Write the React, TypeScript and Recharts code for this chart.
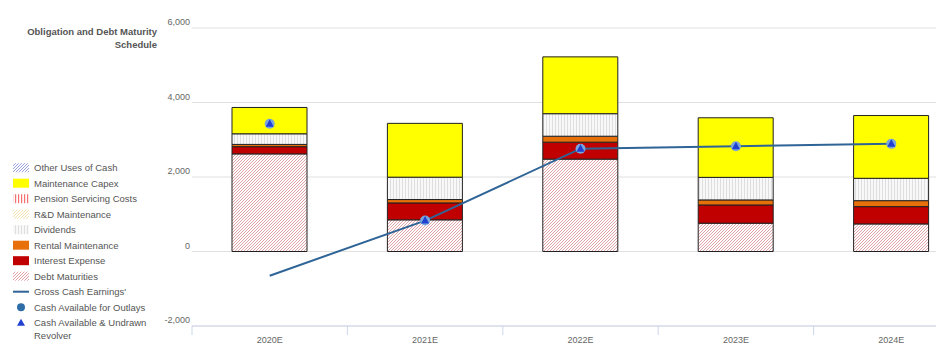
import React from 'react';
import { ComposedChart, Bar, Line, XAxis, YAxis, CartesianGrid } from 'recharts';

const categories = ['2020E', '2021E', '2022E', '2023E', '2024E'];
const debtMaturities = [2620, 850, 2480, 760, 740];
const interestExpense = [195, 455, 455, 490, 465];
const rentalMaintenance = [60, 90, 160, 135, 160];
const dividends = [285, 600, 605, 605, 600];
const rdMaintenance = [0, 0, 0, 0, 0];
const pensionServicing = [0, 0, 0, 0, 0];
const maintenanceCapex = [707, 1445, 1525, 1600, 1685];
const otherUses = [0, 0, 0, 0, 0];
const grossCashEarnings = [-650, 830, 2760, 2825, 2890];
const cashAvailable = [3430, 830, 2760, 2825, 2890];
const cashAvailableRevolver = [3430, 830, 2760, 2825, 2890];
const yTicks = [-2000, 0, 2000, 4000, 6000];

const data = categories.map((c, i) => ({
  name: c,
  debt: debtMaturities[i],
  interest: interestExpense[i],
  rental: rentalMaintenance[i],
  dividends: dividends[i],
  rd: rdMaintenance[i],
  pension: pensionServicing[i],
  capex: maintenanceCapex[i],
  other: otherUses[i],
  gross: grossCashEarnings[i],
  cash: cashAvailable[i],
  revolver: cashAvailableRevolver[i],
}));

const FONT = '"Liberation Sans", Arial, sans-serif';
const LINE_COLOR = '#2f6497';

const PatternDefs = () => (
  <svg width={0} height={0} style={{ position: 'absolute', left: 0, top: 0 }}>
    <defs>
      <pattern id="pdebt" patternUnits="userSpaceOnUse" width="3" height="3">
        <rect width="3" height="3" fill="#fff" />
        <path d="M-1,1 L1,-1 M0,3 L3,0 M2,4 L4,2" stroke="#d98c8e" strokeWidth="0.8" fill="none" />
      </pattern>
      <pattern id="pdiv" patternUnits="userSpaceOnUse" width="3" height="3">
        <rect width="3" height="3" fill="#f8f8f8" />
        <rect x="0" y="0" width="1" height="3" fill="#dedede" />
      </pattern>
      <pattern id="ppension" patternUnits="userSpaceOnUse" width="3" height="3">
        <rect width="3" height="3" fill="#fff" />
        <rect x="0" y="0" width="1.2" height="3" fill="#f57070" />
      </pattern>
      <pattern id="prd" patternUnits="userSpaceOnUse" width="3" height="3">
        <rect width="3" height="3" fill="#fff" />
        <path d="M-1,1 L1,-1 M0,3 L3,0 M2,4 L4,2" stroke="#f5e2b0" strokeWidth="1" fill="none" />
      </pattern>
      <pattern id="pother" patternUnits="userSpaceOnUse" width="3" height="3">
        <rect width="3" height="3" fill="#fff" />
        <path d="M-1,1 L1,-1 M0,3 L3,0 M2,4 L4,2" stroke="#8c94d8" strokeWidth="0.9" fill="none" />
      </pattern>
    </defs>
  </svg>
);

const XTick = (props: any) => {
  const { x, y, payload } = props;
  const off = payload && payload.offset ? payload.offset : 77.7;
  return (
    <g>
      <line x1={x - off} x2={x - off} y1={y} y2={y + 9} stroke="#ccd6eb" strokeWidth={1} />
      <text x={x} y={y + 17} textAnchor="middle" fontSize={9} fill="#666" fontFamily={FONT}>
        {payload.value}
      </text>
    </g>
  );
};

const YTick = (props: any) => {
  const { x, y, payload } = props;
  return (
    <text x={x} y={y - 3} textAnchor="end" fontSize={9} fill="#666" fontFamily={FONT}>
      {Number(payload.value).toLocaleString('en-US')}
    </text>
  );
};

const CircleDot = (props: any) => {
  const { cx, cy } = props;
  if (cx == null || cy == null) return null;
  return <circle cx={cx} cy={cy} r={5} fill="#7aa6dc" />;
};

const TriDot = (props: any) => {
  const { cx, cy } = props;
  if (cx == null || cy == null) return null;
  return (
    <polygon
      points={`${cx},${cy - 4.5} ${cx + 4},${cy + 3} ${cx - 4},${cy + 3}`}
      fill="#1f40d0"
    />
  );
};

const legendItems = [
  { label: 'Other Uses of Cash', kind: 'rect', fill: 'url(#pother)' },
  { label: 'Maintenance Capex', kind: 'rect', fill: '#ffff00' },
  { label: 'Pension Servicing Costs', kind: 'rect', fill: 'url(#ppension)' },
  { label: 'R&D Maintenance', kind: 'rect', fill: 'url(#prd)' },
  { label: 'Dividends', kind: 'rect', fill: 'url(#pdiv)' },
  { label: 'Rental Maintenance', kind: 'rect', fill: '#e8700a' },
  { label: 'Interest Expense', kind: 'rect', fill: '#c00000' },
  { label: 'Debt Maturities', kind: 'rect', fill: 'url(#pdebt)' },
  { label: "Gross Cash Earnings'", kind: 'line', fill: LINE_COLOR },
  { label: 'Cash Available for Outlays', kind: 'circle', fill: '#2f6da8' },
  { label: 'Cash Available & Undrawn', label2: 'Revolver', kind: 'tri', fill: '#1f40d0' },
];

const LegendBox = () => (
  <svg width={190} height={200} style={{ position: 'absolute', left: 0, top: 155 }}>
    {legendItems.map((it, i) => {
      const cy = 12.7 + i * 15.5;
      return (
        <g key={it.label}>
          {it.kind === 'rect' && <rect x={13} y={cy - 4.5} width={16} height={9} fill={it.fill} />}
          {it.kind === 'line' && <line x1={13} x2={29} y1={cy} y2={cy} stroke={it.fill} strokeWidth={2} />}
          {it.kind === 'circle' && <circle cx={21} cy={cy} r={4} fill={it.fill} />}
          {it.kind === 'tri' && (
            <polygon points={`21,${cy - 4} 25,${cy + 3} 17,${cy + 3}`} fill={it.fill} />
          )}
          <text x={34} y={cy + 3.3} fontSize={9.5} fill="#555" fontFamily={FONT}>
            {it.label}
          </text>
          {it.label2 && (
            <text x={34} y={cy + 3.3 + 12.6} fontSize={9.5} fill="#555" fontFamily={FONT}>
              {it.label2}
            </text>
          )}
        </g>
      );
    })}
  </svg>
);

const barProps = { stackId: 's', barSize: 75, stroke: '#222', strokeWidth: 1, isAnimationActive: false };

export default function App() {
  return (
    <div
      style={{
        position: 'absolute',
        left: 0,
        top: 0,
        width: 936,
        height: 358,
        overflow: 'hidden',
        background: '#fff',
        fontFamily: FONT,
      }}
    >
      <PatternDefs />
      <ComposedChart
        width={980}
        height={358}
        data={data}
        margin={{ top: 28, right: 11, bottom: 0, left: 0 }}
        barCategoryGap="0%"
      >
        <CartesianGrid vertical={false} stroke="#e0e0e0" />
        <XAxis
          dataKey="name"
          height={32}
          tickLine={false}
          tickSize={0}
          tickMargin={0}
          axisLine={{ stroke: '#ccd6eb' }}
          tick={<XTick />}
          interval={0}
        />
        <YAxis
          width={192}
          domain={[-2000, 6000]}
          ticks={yTicks}
          axisLine={false}
          tickLine={false}
          tickSize={0}
          tickMargin={2}
          tick={<YTick />}
          allowDataOverflow
        />
        <Bar dataKey="debt" fill="url(#pdebt)" {...barProps} />
        <Bar dataKey="interest" fill="#c00000" {...barProps} />
        <Bar dataKey="rental" fill="#e8700a" {...barProps} />
        <Bar dataKey="dividends" fill="url(#pdiv)" {...barProps} />
        <Bar dataKey="rd" fill="url(#prd)" {...barProps} />
        <Bar dataKey="pension" fill="url(#ppension)" {...barProps} />
        <Bar dataKey="capex" fill="#ffff00" {...barProps} />
        <Bar dataKey="other" fill="url(#pother)" {...barProps} />
        <Line dataKey="gross" stroke={LINE_COLOR} strokeWidth={2} dot={false} activeDot={false} isAnimationActive={false} />
        <Line dataKey="cash" stroke="none" strokeWidth={0} dot={<CircleDot />} activeDot={false} isAnimationActive={false} />
        <Line dataKey="revolver" stroke="none" strokeWidth={0} dot={<TriDot />} activeDot={false} isAnimationActive={false} />
      </ComposedChart>
      <div
        style={{
          position: 'absolute',
          right: 936 - 157,
          top: 25,
          textAlign: 'right',
          fontSize: 9.5,
          fontWeight: 'bold',
          color: '#555',
          lineHeight: '13px',
          fontFamily: FONT,
          whiteSpace: 'nowrap',
        }}
      >
        Obligation and Debt Maturity
        <br />
        Schedule
      </div>
      <LegendBox />
    </div>
  );
}
